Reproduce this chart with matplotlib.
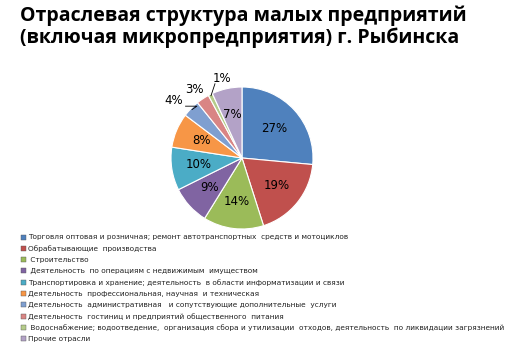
import numpy as np
import matplotlib
matplotlib.use('Agg')
import matplotlib.pyplot as plt

title = "Отраслевая структура малых предприятий\n(включая микропредприятия) г. Рыбинска"
categories = [
    "Торговля оптовая и розничная; ремонт автотранспортных  средств и мотоциклов",
    "Обрабатывающие  производства",
    " Строительство",
    " Деятельность  по операциям с недвижимым  имуществом",
    "Транспортировка и хранение; деятельность  в области информатизации и связи",
    "Деятельность  профессиональная, научная  и техническая",
    "Деятельность  административная   и сопутствующие дополнительные  услуги",
    "Деятельность  гостиниц и предприятий общественного  питания",
    " Водоснабжение; водоотведение,  организация сбора и утилизации  отходов, деятельность  по ликвидации загрязнений",
    "Прочие отрасли",
]
shares = [27, 19, 14, 9, 10, 8, 4, 3, 1, 7]
colors = ['#4F81BD', '#C0504D', '#9BBB59', '#8064A2', '#4BACC6',
          '#F79646', '#7F9FD0', '#D98584', '#B5CC8A', '#B3A2C7']

fig = plt.figure(figsize=(5.13, 3.53), dpi=100)
fig.patch.set_facecolor('white')

fig.text(20 / 513, 1 - 5 / 353, title, ha='left', va='top', fontsize=14,
         fontweight='bold', family='Open Sans', linespacing=1.12)

# pie axes: centre ~ (242,158) px, radius ~70 px
cx, cy, r = 242, 158, 71
ax = fig.add_axes([(cx - r * 1.5) / 513, 1 - (cy + r * 1.5) / 353,
                   3 * r / 513, 3 * r / 353])
wedges, _ = ax.pie(shares, colors=colors, startangle=90, counterclock=False,
                   wedgeprops=dict(edgecolor='white', linewidth=0.8))
ax.set_aspect('equal')
ax.set_xlim(-1.5, 1.5)
ax.set_ylim(-1.5, 1.5)

# labels: inside for big slices, outside with leader lines for the small ones
outside = {6: (140, 1.26), 7: (125, 1.17), 8: (104, 1.16)}
for i, w in enumerate(wedges):
    mid = np.deg2rad((w.theta1 + w.theta2) / 2)
    txt = f"{shares[i]}%"
    if i in outside:
        ang, dist = outside[i]
        a = np.deg2rad(ang)
        tx, ty = dist * np.cos(a), dist * np.sin(a)
        ax.text(tx, ty, txt, ha='center', va='center', fontsize=8.5, family='DejaVu Sans')
        ex, ey = 0.98 * np.cos(mid), 0.98 * np.sin(mid)
        if i == 6:
            ax.plot([tx + 0.17, tx + 0.33, ex], [ty - 0.08, ty - 0.08, ey], color='black', lw=0.6)
        elif i == 8:
            ax.plot([tx - 0.1, ex], [ty - 0.08, ey], color='black', lw=0.6)
    else:
        d = 0.62
        ax.text(d * np.cos(mid), d * np.sin(mid), txt, ha='center', va='center',
                fontsize=8.5, family='DejaVu Sans')

# legend
y0 = 237
step = 11.3
for i, (lab, c) in enumerate(zip(categories, colors)):
    y = 1 - (y0 + i * step) / 353
    fig.patches.append(plt.Rectangle((21 / 513, y - 2.5 / 353), 5 / 513, 5 / 353,
                                     transform=fig.transFigure, facecolor=c,
                                     edgecolor='#555555', linewidth=0.3))
    fig.text(28 / 513, y, lab, ha='left', va='center', fontsize=5.3,
             family='DejaVu Sans', color='#222222')

fig.savefig('out.png', dpi=100)
